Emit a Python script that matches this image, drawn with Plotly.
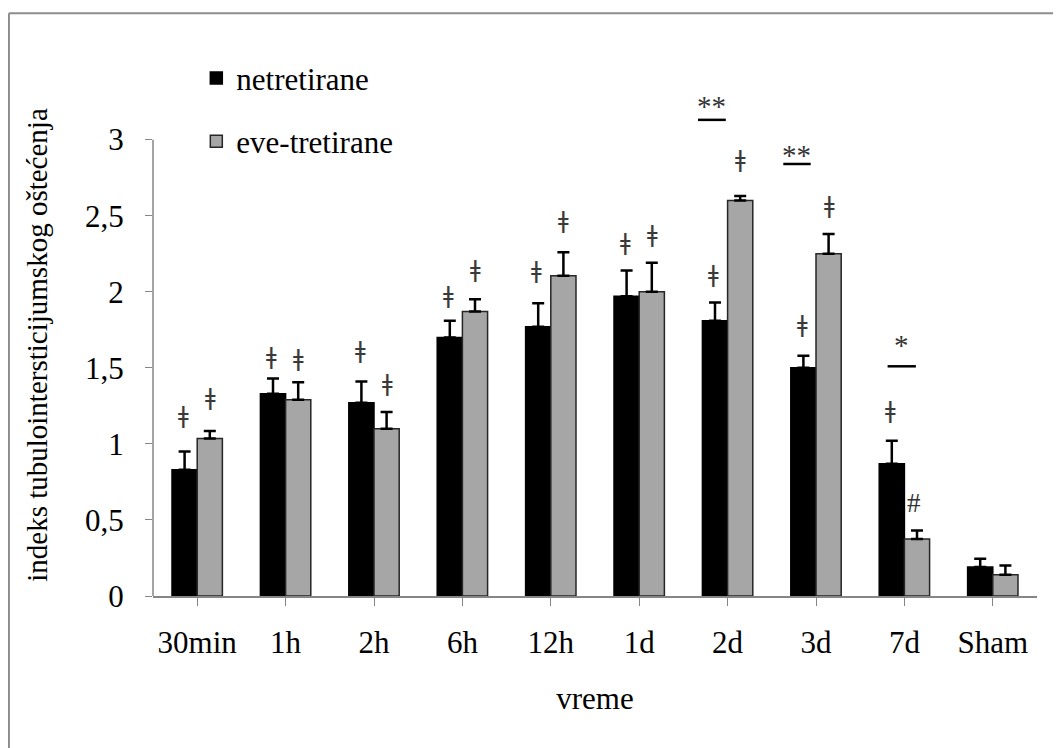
import plotly.graph_objects as go

categories = ["30min", "1h", "2h", "6h", "12h", "1d", "2d", "3d", "7d", "Sham"]
untreated = [0.83, 1.33, 1.27, 1.70, 1.77, 1.97, 1.81, 1.50, 0.87, 0.19]
untreated_err = [0.12, 0.10, 0.14, 0.11, 0.155, 0.17, 0.12, 0.08, 0.15, 0.055]
treated = [1.035, 1.29, 1.10, 1.87, 2.105, 2.00, 2.60, 2.25, 0.375, 0.14]
treated_err = [0.05, 0.115, 0.11, 0.08, 0.155, 0.19, 0.03, 0.13, 0.055, 0.06]

# significance marks
dagger_untreated_y = [1.19, 1.58, 1.62, 1.98, 2.14, 2.33, 2.12, 1.79, 1.22, None]
dagger_treated_y = [1.31, 1.565, 1.40, 2.15, 2.47, 2.38, 2.87, 2.57, None, None]
hash_marks = [("7d", 0.61)]
star_marks = [("2d", "**", 3.22, 3.13, -0.335, -0.02),
              ("3d", "**", 2.90, 2.84, -0.37, -0.06),
              ("7d", "*", 1.65, 1.51, -0.19, 0.13)]

FONT = "Liberation Serif"
SYMFONT = "DejaVu Sans"
AX = "#868686"

fig = go.Figure()
fig.add_bar(x=categories, y=untreated, name="netretirane",
            marker=dict(color="black", line=dict(color="black", width=1.5)),
            error_y=dict(type="data", array=untreated_err, symmetric=False,
                         arrayminus=[0]*len(untreated), color="black", thickness=2.5, width=6),
            legendgroup="a")
fig.add_bar(x=categories, y=treated, name="eve-tretirane",
            marker=dict(color="#a6a6a6", line=dict(color="#262626", width=1.5)),
            error_y=dict(type="data", array=treated_err, symmetric=False,
                         arrayminus=[0]*len(treated), color="black", thickness=2.5, width=6),
            legendgroup="b")

annotations = []
for c, yv in zip(categories, dagger_untreated_y):
    if yv is not None:
        annotations.append(dict(x=c, y=yv, xref="x", yref="y", text="ǂ", showarrow=False,
                                xshift=-14, font=dict(family=SYMFONT, size=23, color="#3a3a3a")))
for c, yv in zip(categories, dagger_treated_y):
    if yv is not None:
        annotations.append(dict(x=c, y=yv, xref="x", yref="y", text="ǂ", showarrow=False,
                                xshift=13, font=dict(family=SYMFONT, size=23, color="#3a3a3a")))
for c, yv in hash_marks:
    annotations.append(dict(x=c, y=yv, xref="x", yref="y", text="#", showarrow=False,
                            xshift=10, font=dict(family=FONT, size=27, color="#333333")))

shapes = []
for c, txt, ys, yl, x0o, x1o in star_marks:
    i = categories.index(c)
    annotations.append(dict(x=i + (x0o + x1o) / 2, y=ys, xref="x", yref="y", text=txt,
                            showarrow=False, font=dict(family=FONT, size=29, color="#333333")))
    shapes.append(dict(type="line", xref="x", yref="y", x0=i + x0o, x1=i + x1o, y0=yl, y1=yl,
                       line=dict(color="black", width=2.5)))

# y axis line from 0 to 3
shapes.append(dict(type="line", xref="paper", yref="y", x0=0, x1=0, y0=0, y1=3,
                   line=dict(color=AX, width=1.5)))
# outer frame (cropped: top and left edges visible)
shapes.append(dict(type="line", xref="paper", yref="paper", x0=-0.163, x1=1.1, y0=1.161, y1=1.161,
                   line=dict(color="#8c8c8c", width=2)))
shapes.append(dict(type="line", xref="paper", yref="paper", x0=-0.163, x1=-0.163, y0=1.161, y1=-0.4,
                   line=dict(color="#8c8c8c", width=2)))

fig.update_layout(
    width=1053, height=740,
    margin=dict(l=145, r=24, t=86, b=152),
    paper_bgcolor="white", plot_bgcolor="white",
    barmode="group", bargap=0.43, bargroupgap=0,
    font=dict(family=FONT, size=31, color="black"),
    showlegend=True,
    legend=dict(x=0.049, y=1.085, xanchor="left", yanchor="top", bgcolor="rgba(0,0,0,0)",
                traceorder="grouped", tracegroupgap=20, font=dict(family=FONT, size=31, color="black"),
                itemclick=False),
    xaxis=dict(showline=True, linecolor=AX, linewidth=1.5, ticks="outside", ticklen=8,
               tickcolor=AX, tickwidth=1, ticklabelstandoff=10,
               title=dict(text="vreme", standoff=28, font=dict(family=FONT, size=31, color="black")),
               showgrid=False),
    yaxis=dict(range=[0, 3.3], tickvals=[0, 0.5, 1, 1.5, 2, 2.5, 3],
               ticktext=["0", "0,5", "1", "1,5", "2", "2,5", "3"],
               showline=False, ticks="outside", ticklen=7, tickcolor=AX, tickwidth=1,
               ticklabelstandoff=15, showgrid=False, zeroline=False,
               title=dict(text="indeks tubulointersticijumskog oštećenja", standoff=28,
                          font=dict(family=FONT, size=29, color="black"))),
    annotations=annotations, shapes=shapes,
)

fig.write_html("out.html")
